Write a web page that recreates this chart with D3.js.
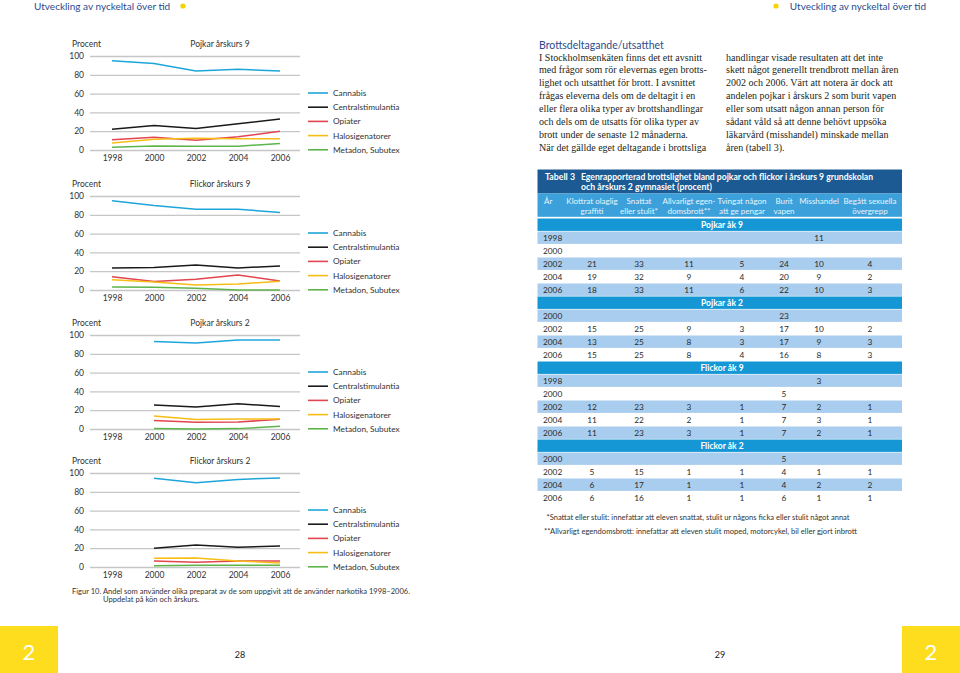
<!DOCTYPE html>
<html><head><meta charset="utf-8">
<script src="https://cdn.jsdelivr.net/npm/d3@7"></script>
<style>body{margin:0;background:#fff} svg{display:block}</style>
</head><body>
<svg id="c" width="960" height="673"></svg>
<script>
// ---------- DATA ----------
const years = [1998, 2000, 2002, 2004, 2006];
const seriesNames = ["Cannabis", "Centralstimulantia", "Opiater", "Halosigenatorer", "Metadon, Subutex"];
const seriesColors = ["#1ea6da", "#1a1a1a", "#e2454f", "#f6bd14", "#5db54a"];
const yTicks = [0, 20, 40, 60, 80, 100];
const chartTitles = ["Pojkar årskurs 9", "Flickor årskurs 9", "Pojkar årskurs 2", "Flickor årskurs 2"];
// each: [Cannabis, Centralstimulantia, Opiater, Halosigenatorer, Metadon]
const pojkarArskurs9 = [[95, 92, 84, 86, 84], [22, 26, 23, 28, 33], [11, 13.5, 10.5, 14, 20], [7.5, 11.5, 12.5, 12, 12], [3, 4.3, 4, 4, 7]];
const flickorArskurs9 = [[95, 90, 86, 86, 82.5], [23.5, 24, 26.5, 23.5, 25.5], [14, 9, 11.5, 16, 9.5], [11, 8.5, 5.3, 6.4, 9.3], [3.2, 2.8, 1.8, 0, 0]];
const pojkarArskurs2 = [[null, 93, 91.5, 94.8, 94.8], [null, 25.5, 23.5, 26.8, 24], [null, 9, 7.2, 7.4, 10.3], [null, 13.8, 10, 10.7, 10.7], [null, 0.4, 0, 0.4, 2.8]];
const flickorArskurs2 = [[null, 94.3, 89.7, 93.2, 94.7], [null, 20, 23.5, 21, 22.4], [null, 6.4, 5, 6.4, 6.4], [null, 9.3, 9.6, 6.4, 4.3], [null, 1.4, 1.8, 1.8, 1.8]];
const chartData = [pojkarArskurs9, flickorArskurs9, pojkarArskurs2, flickorArskurs2];

const tableColumns = [["Klottrat olaglig", "graffiti"], ["Snattat", "eller stulit*"], ["Allvarligt egen-", "domsbrott**"], ["Tvingat någon", "att ge pengar"], ["Burit", "vapen"], ["Misshandel", ""], ["Begått sexuella", "övergrepp"]];
const sectionTitles = ["Pojkar åk 9", "Pojkar åk 2", "Flickor åk 9", "Flickor åk 2"];
const pojkarAk9Years = [1998, 2000, 2002, 2004, 2006];
const pojkarAk9Values = [[null, null, null, null, null, 11, null], [null, null, null, null, null, null, null], [21, 33, 11, 5, 24, 10, 4], [19, 32, 9, 4, 20, 9, 2], [18, 33, 11, 6, 22, 10, 3]];
const pojkarAk2Years = [2000, 2002, 2004, 2006];
const pojkarAk2Values = [[null, null, null, null, 23, null, null], [15, 25, 9, 3, 17, 10, 2], [13, 25, 8, 3, 17, 9, 3], [15, 25, 8, 4, 16, 8, 3]];
const flickorAk9Years = [1998, 2000, 2002, 2004, 2006];
const flickorAk9Values = [[null, null, null, null, null, 3, null], [null, null, null, null, 5, null, null], [12, 23, 3, 1, 7, 2, 1], [11, 22, 2, 1, 7, 3, 1], [11, 23, 3, 1, 7, 2, 1]];
const flickorAk2Years = [2000, 2002, 2004, 2006];
const flickorAk2Values = [[null, null, null, null, 5, null, null], [5, 15, 1, 1, 4, 1, 1], [6, 17, 1, 1, 4, 2, 2], [6, 16, 1, 1, 6, 1, 1]];
const sectionYears = [pojkarAk9Years, pojkarAk2Years, flickorAk9Years, flickorAk2Years];
const sectionValues = [pojkarAk9Values, pojkarAk2Values, flickorAk9Values, flickorAk2Values];

const bodyLeft = ["I Stockholmsenkäten finns det ett avsnitt", "med frågor som rör elevernas egen brotts-", "lighet och utsatthet för brott. I avsnittet", "frågas eleverna dels om de deltagit i en", "eller flera olika typer av brottshandlingar", "och dels om de utsatts för olika typer av", "brott under de senaste 12 månaderna.", "När det gällde eget deltagande i brottsliga"];
const bodyRight = ["handlingar visade resultaten att det inte", "skett något generellt trendbrott mellan åren", "2002 och 2006. Värt att notera är dock att", "andelen pojkar i årskurs 2 som burit vapen", "eller som utsatt någon annan person för", "sådant våld så att denne behövt uppsöka", "läkarvård (misshandel) minskade mellan", "åren (tabell 3)."];

// ---------- DRAW ----------
const svg = d3.select("#c");
const SANS = "Lato, 'Open Sans', sans-serif";
const SERIF = "'Liberation Serif', 'DejaVu Serif', serif";
const BLUE = "#2b4a8e";

// running headers
[{x: 34, anchor: "start", dot: 183}, {x: 926, anchor: "end", dot: 776}].forEach(h => {
  svg.append("text").attr("x", h.x).attr("y", 6).attr("dominant-baseline", "central")
    .attr("text-anchor", h.anchor).attr("font-family", SANS).attr("font-size", 10)
    .attr("fill", BLUE).text("Utveckling av nyckeltal över tid");
  svg.append("circle").attr("cx", h.dot).attr("cy", 6).attr("r", 2.6).attr("fill", "#f2d500");
});

// charts
const chartTops = [56, 196, 335, 473];
const chartH = 94;
const x = d3.scalePoint().domain(years).range([112, 280]);
chartData.forEach((data, ci) => {
  const top = chartTops[ci];
  const y = d3.scaleLinear().domain([0, 100]).range([top + chartH, top]);
  const g = svg.append("g").attr("font-family", SANS);
  const ya = g.append("g").attr("transform", "translate(90,0)")
    .call(d3.axisLeft(y).tickValues(yTicks).tickSize(-210).tickPadding(6).tickFormat(d3.format("d")));
  ya.select(".domain").remove();
  ya.selectAll(".tick line").attr("stroke", "#c6c6c6").attr("stroke-width", 1.3);
  ya.selectAll(".tick text").attr("font-family", SANS).attr("font-size", 8.5).attr("fill", "#333");
  const xa = g.append("g").attr("transform", `translate(0,${top + chartH})`)
    .call(d3.axisBottom(x).tickSize(0).tickPadding(5).tickFormat(d3.format("d")));
  xa.select(".domain").remove();
  xa.selectAll(".tick text").attr("font-family", SANS).attr("font-size", 8.5).attr("fill", "#333");
  g.append("text").attr("x", 72).attr("y", top - 12).attr("dominant-baseline", "central")
    .attr("font-size", 8.5).attr("fill", "#333").text("Procent");
  g.append("text").attr("x", 220).attr("y", top - 12).attr("dominant-baseline", "central")
    .attr("text-anchor", "middle").attr("font-size", 8.5).attr("fill", "#333").text(chartTitles[ci]);
  const line = d3.line().defined(d => d[1] !== null).x(d => x(d[0])).y(d => y(d[1]));
  data.forEach((vals, si) => {
    g.append("path").datum(years.map((yr, i) => [yr, vals[i]]))
      .attr("d", line).attr("fill", "none").attr("stroke", seriesColors[si]).attr("stroke-width", 1.5);
  });
  seriesNames.forEach((name, si) => {
    const ly = top + 37 + 14.2 * si;
    g.append("line").attr("x1", 308).attr("x2", 328).attr("y1", ly).attr("y2", ly)
      .attr("stroke", seriesColors[si]).attr("stroke-width", 1.6);
    g.append("text").attr("x", 333).attr("y", ly).attr("dominant-baseline", "central")
      .attr("font-size", 8.3).attr("fill", "#333").text(name);
  });
});

// caption
svg.append("text").attr("x", 72).attr("y", 590.7).attr("dominant-baseline", "central")
  .attr("font-family", SANS).attr("font-size", 7.6).attr("fill", "#333")
  .attr("textLength", 338).attr("lengthAdjust", "spacingAndGlyphs")
  .text("Figur 10. Andel som använder olika preparat av de som uppgivit att de använder narkotika 1998–2006.");
svg.append("text").attr("x", 103).attr("y", 599.3).attr("dominant-baseline", "central")
  .attr("font-family", SANS).attr("font-size", 7.6).attr("fill", "#333")
  .text("Uppdelat på kön och årskurs.");

// right page text
svg.append("text").attr("x", 539).attr("y", 45).attr("dominant-baseline", "central")
  .attr("font-family", SANS).attr("font-size", 10.5).attr("fill", BLUE).text("Brottsdeltagande/utsatthet");
[[bodyLeft, 539], [bodyRight, 726]].forEach(([lines, bx]) => {
  lines.forEach((t, i) => {
    svg.append("text").attr("x", bx).attr("y", 57 + 12.95 * i).attr("dominant-baseline", "central")
      .attr("font-family", SERIF).attr("font-size", 10).attr("fill", "#231f20").text(t);
  });
});

// table
const TL = 537.5, TR = 902;
svg.append("rect").attr("x", TL).attr("y", 169.5).attr("width", TR - TL).attr("height", 24).attr("fill", "#1c5a93");
svg.append("rect").attr("x", TL).attr("y", 193.5).attr("width", TR - TL).attr("height", 23.3).attr("fill", "#3ca0da");
const tt = (t, xx, yy, len) => {
  const e = svg.append("text").attr("x", xx).attr("y", yy).attr("dominant-baseline", "central")
    .attr("font-family", SANS).attr("font-size", 8.5).attr("font-weight", "bold").attr("fill", "#fff").text(t);
  if (len) e.attr("textLength", len).attr("lengthAdjust", "spacingAndGlyphs");
};
tt("Tabell 3", 545, 177.3, 30);
tt("Egenrapporterad brottslighet bland pojkar och flickor i årskurs 9 grundskolan", 581, 177.3, 292);
tt("och årskurs 2 gymnasiet (procent)", 581, 187.3, 131);

const colX = d3.scaleOrdinal().domain(d3.range(7)).range([592, 639, 689, 742, 784, 819, 870]);
svg.append("text").attr("x", 544).attr("y", 201).attr("dominant-baseline", "central")
  .attr("font-family", SANS).attr("font-size", 8).attr("fill", "#eaf5fc").text("År");
tableColumns.forEach((lines, ci) => {
  lines.forEach((t, li) => {
    svg.append("text").attr("x", colX(ci)).attr("y", 201 + 10 * li).attr("dominant-baseline", "central")
      .attr("text-anchor", "middle").attr("font-family", SANS).attr("font-size", 8).attr("fill", "#eaf5fc").text(t);
  });
});

const rows = [];
sectionTitles.forEach((s, si) => {
  rows.push({type: "section", label: s});
  sectionYears[si].forEach((yr, ri) => rows.push({type: "row", year: yr, values: sectionValues[si][ri], shade: ri % 2 === 0}));
});
const rowY = d3.scaleBand().domain(d3.range(rows.length)).range([218.5, 218.5 + 13 * rows.length]);
rows.forEach((r, i) => {
  const y0 = rowY(i), h = rowY.bandwidth(), cy = y0 + h / 2;
  if (r.type === "section") {
    svg.append("rect").attr("x", TL).attr("y", y0).attr("width", TR - TL).attr("height", h - 0.6).attr("fill", "#1597d6");
    svg.append("text").attr("x", 722).attr("y", cy - 0.3).attr("dominant-baseline", "central").attr("text-anchor", "middle")
      .attr("font-family", SANS).attr("font-size", 8.5).attr("font-weight", "bold").attr("fill", "#fff").text(r.label);
  } else {
    if (r.shade) svg.append("rect").attr("x", TL).attr("y", y0).attr("width", TR - TL).attr("height", h - 0.6).attr("fill", "#a9cdee");
    svg.append("text").attr("x", 543).attr("y", cy).attr("dominant-baseline", "central")
      .attr("font-family", SANS).attr("font-size", 8.3).attr("fill", "#2a2a2a").text(r.year);
    r.values.forEach((v, ci) => {
      if (v === null) return;
      svg.append("text").attr("x", colX(ci)).attr("y", cy).attr("dominant-baseline", "central").attr("text-anchor", "middle")
        .attr("font-family", SANS).attr("font-size", 8.3).attr("fill", "#2a2a2a").text(v);
    });
  }
});

// footnotes
svg.append("text").attr("x", 546.5).attr("y", 517.3).attr("dominant-baseline", "central")
  .attr("font-family", SANS).attr("font-size", 7.6).attr("fill", "#333")
  .attr("textLength", 303).attr("lengthAdjust", "spacingAndGlyphs")
  .text("*Snattat eller stulit: innefattar att eleven snattat, stulit ur någons ficka eller stulit något annat");
svg.append("text").attr("x", 544).attr("y", 530.7).attr("dominant-baseline", "central")
  .attr("font-family", SANS).attr("font-size", 7.6).attr("fill", "#333")
  .attr("textLength", 313).attr("lengthAdjust", "spacingAndGlyphs")
  .text("**Allvarligt egendomsbrott: innefattar att eleven stulit moped, motorcykel, bil eller gjort inbrott");

// footer
[[0, 29], [902, 931]].forEach(([bx, tx]) => {
  svg.append("rect").attr("x", bx).attr("y", 626).attr("width", 58).attr("height", 47).attr("fill", "#fedd1f");
  svg.append("text").attr("x", tx).attr("y", 651).attr("dominant-baseline", "central").attr("text-anchor", "middle")
    .attr("font-family", SANS).attr("font-size", 22).attr("fill", "#fff").text("2");
});
[[240, "28"], [720, "29"]].forEach(([px, t]) => {
  svg.append("text").attr("x", px).attr("y", 654).attr("dominant-baseline", "central").attr("text-anchor", "middle")
    .attr("font-family", SANS).attr("font-size", 9).attr("fill", "#222").text(t);
});
</script>
</body></html>
